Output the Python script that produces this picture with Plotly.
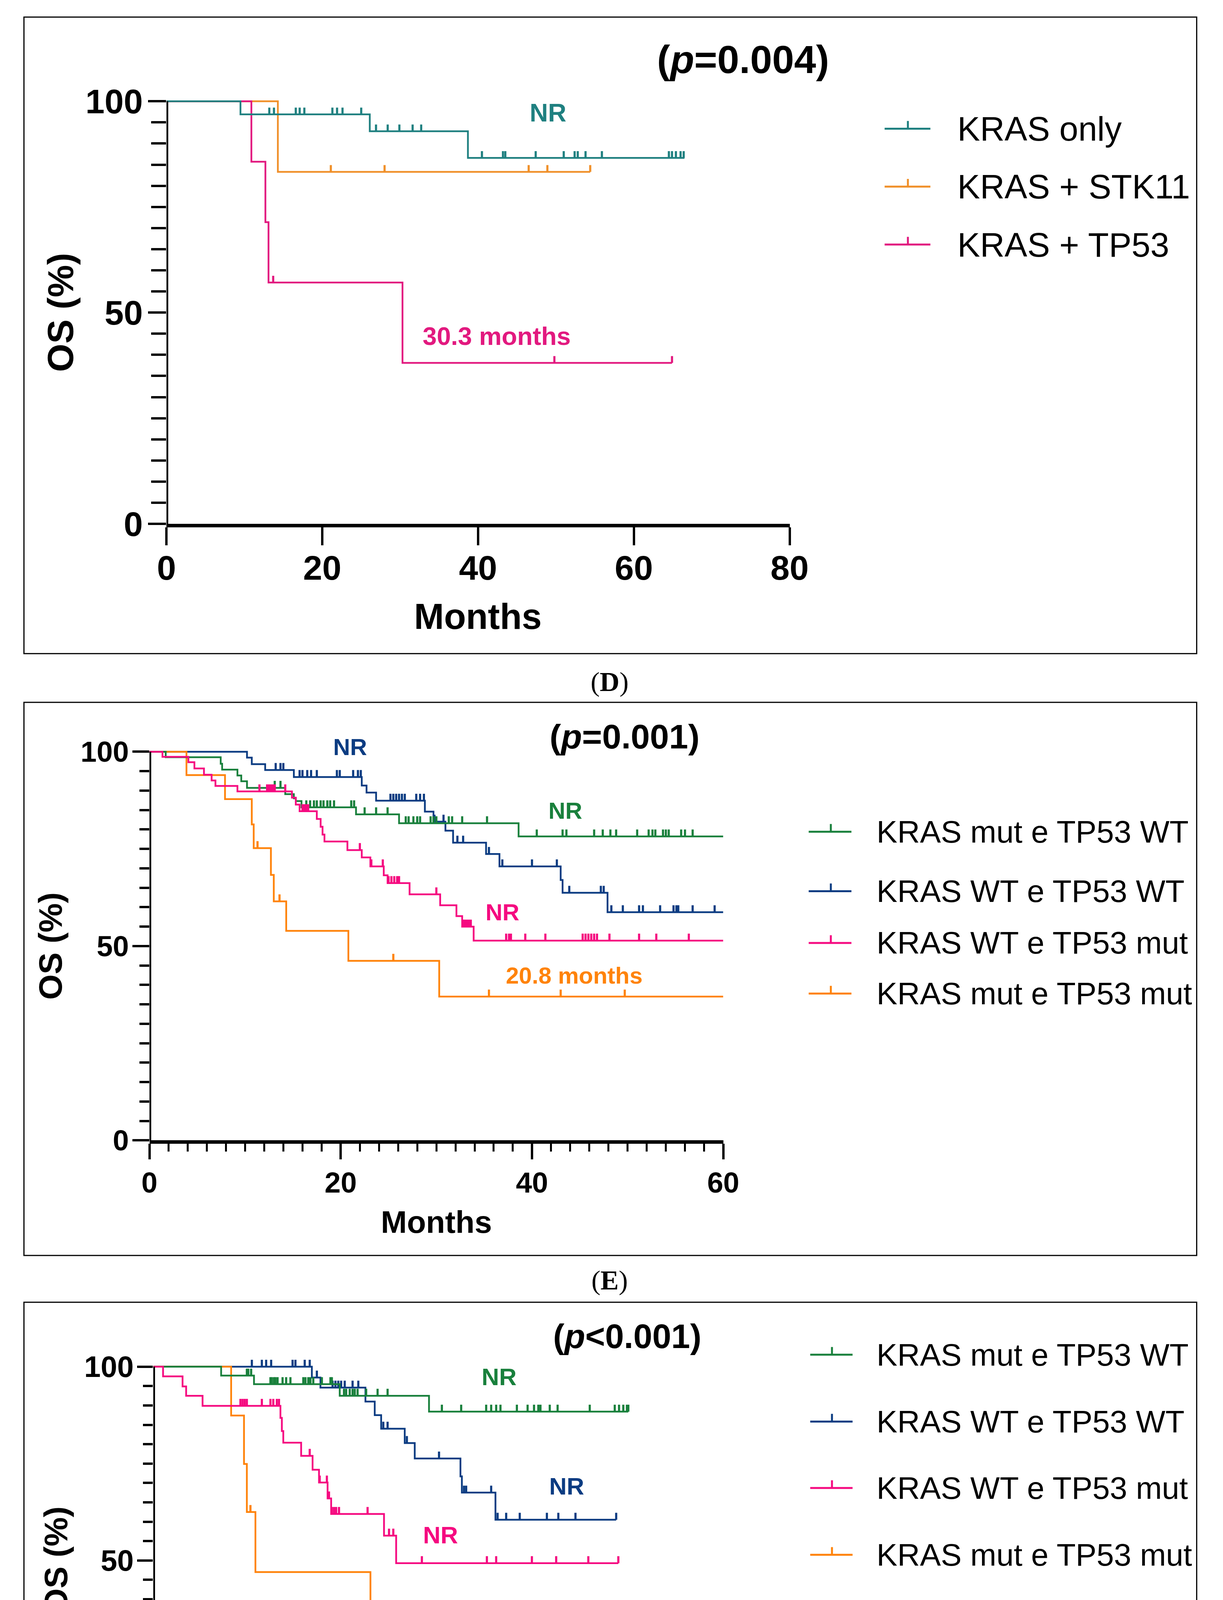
import plotly.graph_objects as go

W, H = 3131, 4942
SANS = "Liberation Sans, Arial, sans-serif"
SERIF = "Liberation Serif, Times New Roman, serif"
YTOP = 104

# ---------------- panel D ----------------
d_only_t = [0, 9.5, 26.1, 38.7]
d_only_s = [100, 96.9, 92.9, 86.6]
d_only_c = [13.2, 13.8, 16.6, 17.1, 17.7, 21.3, 21.9, 22.6, 25.0, 26.9, 28.4, 29.9,
            31.6, 32.7, 40.5, 43.2, 43.5, 47.4, 51.0, 52.4, 52.8, 53.8, 55.9,
            64.5, 64.9, 65.4, 66.0, 66.4]
d_only_end = 66.5

d_stk_t = [0, 14.3]
d_stk_s = [100, 83.3]
d_stk_c = [21.1, 28.0, 46.5, 48.9, 54.4]
d_stk_end = 54.4

d_tp_t = [0, 10.9, 12.7, 13.1, 30.3]
d_tp_s = [100, 85.7, 71.4, 57.1, 38.1]
d_tp_c = [13.7, 49.8, 64.9]
d_tp_end = 64.9

# ---------------- panel E ----------------
e_mw_t = [0, 1.7, 7.45, 7.6, 9.2, 9.6, 10.2, 14.2, 15.1, 15.3, 15.9, 21.6, 26.1, 38.6]
e_mw_s = [100, 98.6, 96.9, 95.4, 93.9, 92.4, 90.7, 89.1, 88.0, 87.3, 85.7, 83.9, 81.6, 78.2]
e_mw_c = [13.1, 13.7, 16.4, 16.8, 17.2, 17.5, 17.9, 18.2, 18.6, 18.9, 19.3, 21.1, 21.4,
          22.5, 23.7, 24.9, 26.8, 27.1, 27.6, 28.0, 28.3, 29.4, 29.7, 30.0, 31.3, 31.65,
          32.7, 35.3, 40.5, 43.2, 43.6, 46.5, 47.4, 48.2, 48.8, 51.0, 52.2, 52.6, 52.9,
          53.7, 54.0, 54.3, 55.6, 56.0, 56.8]
e_mw_end = 60

e_ww_t = [0, 10.2, 10.7, 12.1, 15.1, 22.2, 22.7, 23.7, 28.8, 29.7, 30.95, 31.75, 35.2,
          36.6, 43.0, 43.2, 47.9]
e_ww_s = [100, 98.5, 96.8, 95.3, 93.5, 91.3, 89.5, 87.4, 84.6, 82.0, 79.7, 76.6, 73.7,
          70.5, 67.0, 63.7, 58.7]
e_ww_c = [13.2, 13.7, 14.0, 15.7, 16.0, 16.5, 16.9, 17.5, 19.6, 19.9, 21.3, 21.8, 22.1,
          25.2, 25.5, 25.8, 26.1, 26.4, 26.7, 27.9, 28.3, 28.7, 29.8, 30.75, 32.2, 32.8,
          35.5, 36.9, 40.0, 42.6, 43.9, 47.2, 47.5, 48.3, 49.5, 51.2, 51.6, 53.4, 54.8,
          55.1, 55.3, 56.8, 59.1]
e_ww_end = 60

e_wm_t = [0, 1.36, 4.07, 4.7, 5.7, 6.5, 6.9, 9.2, 14.9, 15.3, 15.7, 17.5, 17.9, 18.1,
          18.3, 20.7, 22.2, 23.1, 24.5, 24.9, 27.2, 30.4, 32.1, 32.7, 33.9]
e_wm_s = [100, 98.7, 97.3, 95.7, 94.1, 92.6, 91.2, 89.8, 88.2, 86.4, 84.7, 82.7, 80.7,
          78.7, 76.9, 74.7, 72.8, 70.5, 68.2, 66.2, 63.3, 60.5, 57.7, 55.0, 51.4]
e_wm_c = [11.5, 12.3, 12.5, 12.7, 12.9, 13.1, 14.2, 16.0, 16.2, 16.4, 16.6, 22.0, 23.2,
          24.4, 25.0, 25.3, 25.6, 25.9, 26.1, 30.0, 32.8, 33.0, 33.2, 33.4, 33.6, 37.3,
          37.6, 37.8, 39.3, 41.4, 45.3, 45.6, 45.9, 46.2, 46.5, 46.8, 48.1, 51.2, 53.0, 56.4]
e_wm_end = 60

e_mm_t = [0, 3.87, 7.9, 10.7, 10.9, 12.7, 13.0, 14.3, 20.8, 30.3]
e_mm_s = [100, 94.0, 87.8, 81.3, 75.2, 68.3, 61.5, 53.9, 46.2, 37.0]
e_mm_c = [11.3, 13.6, 25.5, 35.5, 43.0, 49.7]
e_mm_end = 60

# ---------------- panel F ----------------
f_mw_t = [0, 9.5, 14.1, 26.1, 38.6]
f_mw_s = [100, 97.7, 95.5, 92.5, 88.4]
f_mw_c = [13.1, 13.3, 13.7, 16.4, 16.6, 16.9, 17.1, 17.4, 18.1, 18.6, 19.2, 21.0, 21.3,
          21.7, 22.0, 22.4, 23.6, 24.8, 25.0, 26.7, 27.0, 27.5, 27.9, 28.2, 28.6, 29.8,
          31.4, 32.8, 40.4, 43.1, 46.6, 47.3, 48.0, 48.6, 50.9, 52.4, 53.3, 53.9, 54.2,
          55.5, 56.6, 61.1, 64.6, 65.2, 65.8, 66.3, 66.5]
f_mw_end = 66.5

f_ww_t = [0, 22.2, 23.4, 29.7, 31.0, 31.9, 35.2, 36.6, 43.0, 43.2, 47.9]
f_ww_s = [100, 97.2, 94.6, 91.0, 87.5, 84.0, 80.3, 76.3, 71.7, 67.5, 60.5]
f_ww_c = [13.8, 15.2, 15.8, 16.5, 19.5, 19.9, 21.2, 21.9, 22.9, 25.1, 25.5, 25.9, 26.3,
          26.8, 27.9, 28.7, 32.2, 32.8, 35.5, 40.0, 43.5, 43.8, 47.3, 48.2, 49.4, 51.3,
          55.1, 56.7, 59.1, 64.8]
f_ww_end = 64.8

f_wm_t = [0, 1.37, 4.1, 4.6, 6.9, 17.8, 18.0, 18.2, 20.7, 22.3, 23.2, 24.4, 24.9, 32.3, 34.0]
f_wm_s = [100, 97.5, 94.9, 92.5, 89.9, 86.8, 83.4, 80.4, 77.0, 73.4, 70.1, 66.0, 62.0,
          56.4, 49.3]
f_wm_c = [12.2, 12.5, 12.8, 13.1, 15.2, 16.4, 16.8, 17.3, 17.6, 21.9, 23.3, 24.3, 24.6,
          25.0, 25.3, 25.6, 26.0, 30.0, 33.0, 33.6, 37.6, 46.7, 48.0, 53.0, 56.4, 60.9, 65.1]
f_wm_end = 65.1

f_mm_t = [0, 10.9, 12.7, 13.1, 14.3, 30.4]
f_mm_s = [100, 87.4, 74.9, 62.5, 47.0, 31.2]
f_mm_c = [13.6, 49.7, 64.7]
f_mm_end = 64.7

# colours
TEAL, ORANGE_D, PINK_D = "#1f8080", "#f0902a", "#e2197f"
GREEN, NAVY, PINK, ORANGE = "#19803c", "#0c3c82", "#f50a80", "#ff830a"


def px(x):
    return x / W


def py(y):
    return 1 - y / H


def surv_at(times, surv, t):
    v = surv[0]
    for ti, si in zip(times, surv):
        if ti <= t:
            v = si
    return v


fig = go.Figure()


def add_curve(n, t, s, c, end, color, lw, tick_h):
    xa, ya = "x" + ("" if n == 1 else str(n)), "y" + ("" if n == 1 else str(n))
    fig.add_trace(go.Scatter(x=t + [end], y=s + [s[-1]], mode="lines", line_shape="hv",
                             line=dict(color=color, width=lw), xaxis=xa, yaxis=ya,
                             showlegend=False, hoverinfo="skip"))
    # censor marks: short upward strokes
    fig.add_trace(go.Scatter(x=c, y=[surv_at(t, s, ci) for ci in c], mode="markers",
                             marker=dict(size=1, color=color),
                             error_y=dict(type="data", symmetric=False, array=[tick_h] * len(c),
                                          arrayminus=[0] * len(c), width=0, thickness=lw + 1,
                                          color=color),
                             xaxis=xa, yaxis=ya, showlegend=False, hoverinfo="skip"))


def axes(n, gx0, gx1, xmax, gy0, gy100, tfont, xlen, ylen, yminlen, xstand, ystand, xminor=None):
    top = gy100 - (YTOP - 100) * (gy0 - gy100) / 100
    sfx = "" if n == 1 else str(n)
    tf = dict(family=SANS, size=tfont, color="black", weight="bold")
    xa = dict(domain=[px(gx0), px(gx1)], range=[0, xmax], anchor="y" + sfx,
              showline=True, linewidth=9, linecolor="black", ticks="outside",
              tickvals=list(range(0, xmax + 1, 20)), ticklen=xlen, tickwidth=6,
              tickcolor="black", tickfont=tf, ticklabelstandoff=xstand,
              showgrid=False, zeroline=False, fixedrange=True)
    if xminor:
        xa["minor"] = dict(dtick=xminor, tick0=0, ticklen=xlen // 2, tickwidth=5,
                           tickcolor="black", ticks="outside", showgrid=False)
    ya = dict(domain=[py(gy0), py(top)], range=[0, YTOP], anchor="x" + sfx,
              showline=False, ticks="outside", tickvals=[0, 50, 100], ticklen=ylen,
              tickwidth=6, tickcolor="black", tickfont=tf, ticklabelstandoff=ystand,
              minor=dict(dtick=5, tick0=0, ticklen=yminlen, tickwidth=6, tickcolor="black",
                         ticks="outside", showgrid=False),
              showgrid=False, zeroline=False, fixedrange=True)
    fig.update_layout({"xaxis" + sfx: xa, "yaxis" + sfx: ya})
    fig.add_shape(type="line", xref="x" + sfx, yref="y" + sfx, x0=0, x1=0, y0=-0.8, y1=100,
                  line=dict(color="black", width=9))


def legend(items, lx0, lx1, tick_x, tx, ys, size):
    for (name, color), yy in zip(items, ys):
        fig.add_shape(type="line", xref="paper", yref="paper", x0=px(lx0), x1=px(lx1),
                      y0=py(yy), y1=py(yy), line=dict(color=color, width=5))
        fig.add_shape(type="line", xref="paper", yref="paper", x0=px(tick_x), x1=px(tick_x),
                      y0=py(yy), y1=py(yy - 20), line=dict(color=color, width=5))
        fig.add_annotation(x=px(tx), y=py(yy), xref="paper", yref="paper", text=name,
                           showarrow=False, xanchor="left", yanchor="middle",
                           font=dict(family=SANS, size=size, color="black"))


def label(n, x, y, text, color, size):
    sfx = "" if n == 1 else str(n)
    fig.add_annotation(x=x, y=y, xref="x" + sfx, yref="y" + sfx, text="<b>%s</b>" % text,
                       showarrow=False, xanchor="center", yanchor="middle",
                       font=dict(family=SANS, size=size, color=color))


def paper_text(x, y, text, size, angle=0, family=SANS):
    fig.add_annotation(x=px(x), y=py(y), xref="paper", yref="paper", text=text,
                       showarrow=False, textangle=angle, xanchor="center", yanchor="middle",
                       font=dict(family=family, size=size, color="black"))


# ---- D ----
axes(1, 403.6, 2037, 80, 1343, 249, 88, 46, 46, 38, -18, -4)
add_curve(1, d_stk_t, d_stk_s, d_stk_c, d_stk_end, ORANGE_D, 4.5, 1.6)
add_curve(1, d_tp_t, d_tp_s, d_tp_c, d_tp_end, PINK_D, 4.5, 1.6)
add_curve(1, d_only_t, d_only_s, d_only_c, d_only_end, TEAL, 4.5, 1.6)
legend([("KRAS only", TEAL), ("KRAS + STK11", ORANGE_D), ("KRAS + TP53", PINK_D)],
       2286, 2406, 2347, 2475, [320, 470, 620], 87)
label(1, 13.3, 105.7, "NR", ORANGE_D, 65)
label(1, 49.0, 97.3, "NR", TEAL, 65)
label(1, 42.4, 44.4, "30.3 months", PINK_D, 65)
paper_text(1915, 141, "<b>(<i>p</i>=0.004)</b>", 101)
paper_text(126, 796, "<b>OS (%)</b>", 93, -90)
paper_text(1220, 1583, "<b>Months</b>", 92)
paper_text(1565, 1752, "(<b>D</b>)", 70, family=SERIF)

# ---- E ----
axes(2, 359, 1863, 60, 2939, 1933, 74, 40, 43, 25, -4, -6, xminor=2)
add_curve(2, e_ww_t, e_ww_s, e_ww_c, e_ww_end, NAVY, 4.5, 1.8)
add_curve(2, e_mm_t, e_mm_s, e_mm_c, e_mm_end, ORANGE, 4.5, 1.8)
add_curve(2, e_mw_t, e_mw_s, e_mw_c, e_mw_end, GREEN, 4.5, 1.8)
add_curve(2, e_wm_t, e_wm_s, e_wm_c, e_wm_end, PINK, 4.5, 1.8)
legend([("KRAS mut e TP53 WT", GREEN), ("KRAS WT e TP53 WT", NAVY),
        ("KRAS WT e TP53 mut", PINK), ("KRAS mut e TP53 mut", ORANGE)],
       2087, 2199, 2145, 2263, [2140, 2294, 2428, 2559], 80)
label(2, 21.0, 101.2, "NR", NAVY, 60)
label(2, 43.5, 84.8, "NR", GREEN, 60)
label(2, 36.9, 58.7, "NR", PINK, 60)
label(2, 44.4, 42.4, "20.8 months", ORANGE, 60)
paper_text(1604, 1894, "<b>(<i>p</i>=0.001)</b>", 88)
paper_text(99, 2436, "<b>OS (%)</b>", 84, -90)
paper_text(1111, 3151, "<b>Months</b>", 80)
paper_text(1565, 3301, "(<b>E</b>)", 70, family=SERIF)

# ---- F ----
axes(3, 369, 1867, 80, 4528, 3525, 76, 42, 40, 25, -4, -6)
add_curve(3, f_ww_t, f_ww_s, f_ww_c, f_ww_end, NAVY, 4.5, 1.8)
add_curve(3, f_mm_t, f_mm_s, f_mm_c, f_mm_end, ORANGE, 4.5, 1.8)
add_curve(3, f_mw_t, f_mw_s, f_mw_c, f_mw_end, GREEN, 4.5, 1.8)
add_curve(3, f_wm_t, f_wm_s, f_wm_c, f_wm_end, PINK, 4.5, 1.8)
legend([("KRAS mut e TP53 WT", GREEN), ("KRAS WT e TP53 WT", NAVY),
        ("KRAS WT e TP53 mut", PINK), ("KRAS mut e TP53 mut", ORANGE)],
       2091, 2202, 2148, 2263, [3494, 3667, 3839, 4012], 80)
label(3, 48.4, 97.4, "NR", GREEN, 62)
label(3, 57.9, 69.2, "NR", NAVY, 62)
label(3, 40.2, 56.6, "NR", PINK, 62)
label(3, 48.9, 37.1, "20.8 months", ORANGE, 62)
paper_text(1612, 3446, "<b>(<i>p</i>&lt;0.001)</b>", 87)
paper_text(114, 4026, "<b>OS (%)</b>", 84, -90)
paper_text(1118, 4748, "<b>Months</b>", 80)
paper_text(1565, 4884, "(<b>F</b>)", 70, family=SERIF)

# panel frames
for top, bot in [(31, 1679), (1805, 3237), (3358, 4815)]:
    fig.add_shape(type="rect", xref="paper", yref="paper", x0=px(30), x1=px(3104),
                  y0=py(bot), y1=py(top), line=dict(color="black", width=3), layer="below")

fig.update_layout(width=W, height=H, margin=dict(l=0, r=0, t=0, b=0),
                  paper_bgcolor="white", plot_bgcolor="rgba(0,0,0,0)", showlegend=False)

fig.write_html("out.html")
